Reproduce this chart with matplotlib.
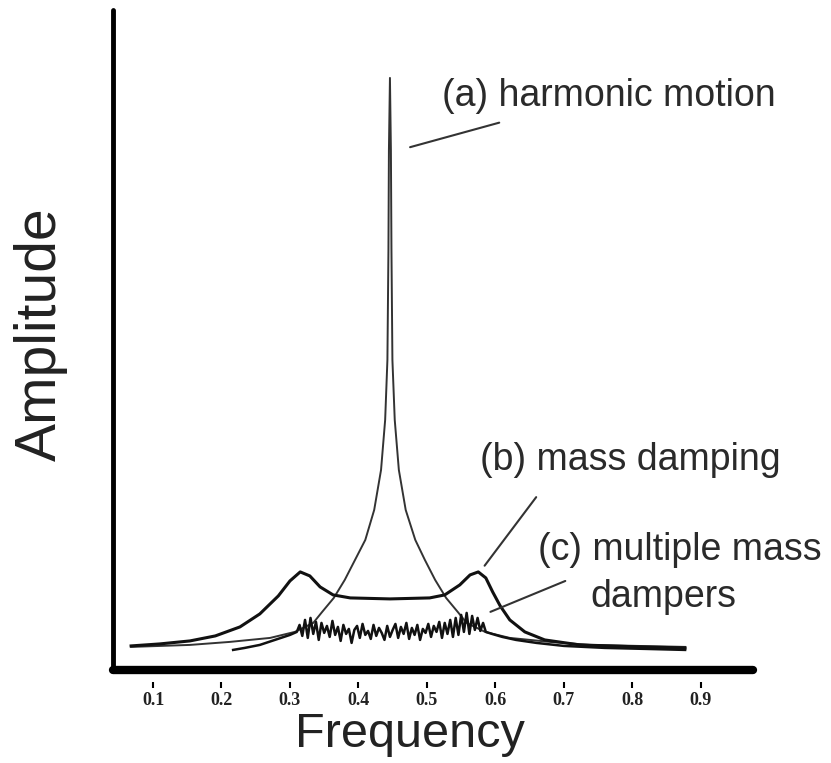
import matplotlib
matplotlib.use('Agg')
from matplotlib import pyplot as plt

plt.rcParams['font.family'] = ['Liberation Sans', 'DejaVu Sans']

# 频率刻度
freq_ticks = [0.1, 0.2, 0.3, 0.4, 0.5, 0.6, 0.7, 0.8, 0.9]
tick_labels = ['0.1', '0.2', '0.3', '0.4', '0.5', '0.6', '0.7', '0.8', '0.9']

# (a) harmonic motion -- 尖峰
f_a = [0.068, 0.154, 0.212, 0.271, 0.307, 0.334, 0.347, 0.364, 0.380, 0.395,
       0.410, 0.423, 0.433, 0.439, 0.4423, 0.4438, 0.4445, 0.446, 0.4474, 0.4482,
       0.4496, 0.453, 0.459, 0.469, 0.483, 0.497, 0.512, 0.528, 0.545, 0.558,
       0.585, 0.621, 0.680, 0.738, 0.877]
amp_a = [0.23, 0.25, 0.28, 0.32, 0.38, 0.47, 0.58, 0.72, 0.90, 1.10,
         1.30, 1.60, 2.00, 2.50, 3.10, 4.20, 5.20, 5.92, 5.20, 4.20,
         3.10, 2.50, 2.00, 1.60, 1.30, 1.10, 0.90, 0.72, 0.58, 0.47,
         0.38, 0.32, 0.28, 0.25, 0.23]

# (b) mass damping -- 双峰
f_b = [0.068, 0.110, 0.154, 0.191, 0.227, 0.256, 0.283, 0.300, 0.315, 0.329,
       0.344, 0.363, 0.388, 0.446, 0.504, 0.526, 0.548, 0.563, 0.575, 0.586,
       0.596, 0.607, 0.621, 0.643, 0.672, 0.723, 0.811, 0.877]
amp_b = [0.24, 0.26, 0.29, 0.34, 0.43, 0.56, 0.74, 0.89, 0.98, 0.94,
         0.83, 0.75, 0.72, 0.71, 0.72, 0.75, 0.85, 0.95, 0.98, 0.92,
         0.78, 0.64, 0.50, 0.38, 0.30, 0.25, 0.23, 0.22]

# (c) multiple mass dampers -- 锯齿状
f_c = [0.217, 0.234, 0.256, 0.278, 0.300, 0.310,
       0.314, 0.318, 0.322, 0.326, 0.330, 0.334, 0.338, 0.342, 0.346, 0.350,
       0.354, 0.358, 0.362, 0.366, 0.370, 0.374, 0.378, 0.382, 0.386, 0.390,
       0.394, 0.398, 0.402, 0.406, 0.410, 0.414, 0.418, 0.422, 0.426, 0.430,
       0.434, 0.438, 0.442, 0.446, 0.450, 0.454, 0.458, 0.462, 0.466, 0.470,
       0.474, 0.478, 0.482, 0.486, 0.490, 0.494, 0.498, 0.502, 0.506, 0.510,
       0.514, 0.518, 0.522, 0.526, 0.530, 0.534, 0.538, 0.542, 0.546, 0.550,
       0.554, 0.558, 0.562, 0.566, 0.570, 0.574, 0.578, 0.582, 0.586,
       0.595, 0.610, 0.630, 0.660, 0.700, 0.760, 0.820, 0.877]
amp_c = [0.20, 0.22, 0.25, 0.30, 0.35, 0.38,
         0.45, 0.34, 0.50, 0.32, 0.52, 0.36, 0.48, 0.30, 0.47, 0.37,
         0.44, 0.33, 0.49, 0.35, 0.43, 0.29, 0.45, 0.36, 0.41, 0.27,
         0.40, 0.44, 0.32, 0.46, 0.35, 0.39, 0.31, 0.45, 0.34, 0.42,
         0.37, 0.30, 0.44, 0.33, 0.40, 0.46, 0.32, 0.43, 0.36, 0.47,
         0.31, 0.42, 0.35, 0.45, 0.30, 0.41, 0.37, 0.46, 0.33, 0.44,
         0.38, 0.48, 0.32, 0.47, 0.36, 0.50, 0.33, 0.52, 0.35, 0.55,
         0.38, 0.57, 0.36, 0.54, 0.40, 0.52, 0.39, 0.47, 0.38,
         0.36, 0.33, 0.30, 0.27, 0.24, 0.22, 0.21, 0.20]

fig = plt.figure(figsize=(8.31, 7.63), dpi=100)
ax = fig.add_axes([0.136, 0.122, 0.770, 0.865])

ax.plot(f_a, amp_a, color='#333333', lw=1.4)
ax.plot(f_b, amp_b, color='#111111', lw=2.2)
ax.plot(f_c, amp_c, color='#111111', lw=1.8)

ax.set_xlim(0.0416, 0.976)
ax.set_ylim(0, 6.6)

# 坐标轴样式：只保留左、下
ax.spines['top'].set_visible(False)
ax.spines['right'].set_visible(False)
ax.spines['left'].set_linewidth(3.5)
ax.spines['bottom'].set_linewidth(6)
ax.spines['left'].set_capstyle('round')
ax.spines['bottom'].set_capstyle('round')
ax.set_xticks([])
ax.set_yticks([])

# 刻度和标签放在稍低的位置
sec = ax.secondary_xaxis(-0.018)
sec.spines['bottom'].set_visible(False)
sec.set_xticks(freq_ticks, labels=tick_labels)
sec.tick_params(length=4.3, width=1.5, pad=3.0, direction='out')
for lab in sec.get_xticklabels():
    lab.set_fontfamily('Liberation Serif')
    lab.set_fontweight('bold')
    lab.set_fontsize(13)
    lab.set_color('#222222')

ax.set_xlabel('Frequency', fontsize=35, color='#222222')
ax.xaxis.set_label_coords(0.464, -0.064)
ax.set_ylabel('Amplitude', fontsize=41, color='#222222')
ax.yaxis.set_label_coords(-0.070, 0.508)

# 注释文字和引线
txt = dict(fontsize=27, color='#2a2a2a', ha='left', va='center')
ax.text(0.522, 5.74, '(a) harmonic motion', **txt)
ax.text(0.577, 2.10, '(b) mass damping', **txt)
ax.text(0.662, 1.20, '(c) multiple mass', **txt)
ax.text(0.738, 0.73, 'dampers', **txt)

line = dict(arrowstyle='-', color='#333333', lw=1.5)
ax.annotate('', xy=(0.4715, 5.22), xytext=(0.6095, 5.48), arrowprops=line)
ax.annotate('', xy=(0.5818, 1.02), xytext=(0.662, 1.75), arrowprops=line)
ax.annotate('', xy=(0.589, 0.57), xytext=(0.7058, 0.90), arrowprops=line)

plt.savefig('out.png', dpi=100)
